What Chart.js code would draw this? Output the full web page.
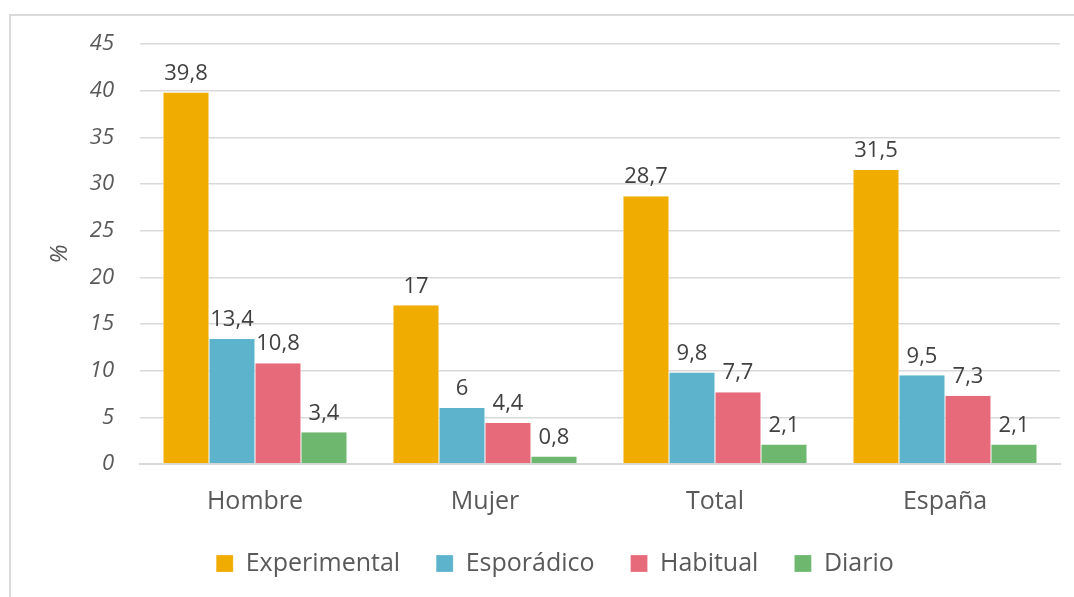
<!DOCTYPE html>
<html>
<head>
<meta charset="utf-8">
<script src="https://cdn.jsdelivr.net/npm/chart.js@4"></script>
<style>
  html, body { margin: 0; padding: 0; background: #fff; overflow: hidden; }
  #wrap { position: relative; width: 1074px; height: 597px; overflow: hidden; }
  #frame {
    position: absolute; left: 9px; top: 14px; width: 1100px; height: 620px;
    border: 2px solid #d9d9d9; box-sizing: border-box;
  }
  canvas { position: absolute; left: 0; top: 0; }
</style>
</head>
<body>
<div id="wrap">
  <div id="frame"></div>
  <canvas id="myChart" width="1074" height="597"></canvas>
</div>
<script>
// Categories and series
const categories = ['Hombre', 'Mujer', 'Total', 'España'];
const experimental = [39.8, 17, 28.7, 31.5];
const esporadico = [13.4, 6, 9.8, 9.5];
const habitual = [10.8, 4.4, 7.7, 7.3];
const diario = [3.4, 0.8, 2.1, 2.1];

const seriesNames = ['Experimental', 'Esporádico', 'Habitual', 'Diario'];
const seriesColors = ['#F0AC00', '#5EB3CC', '#E76A7B', '#6DB86E'];

const FONT = "'Open Sans', sans-serif";
const fmt = (v) => String(v).replace('.', ',');

// Simple value labels above each bar
const barLabels = {
    id: 'barLabels',
    afterDatasetsDraw(chart) {
        const ctx = chart.ctx;
        ctx.save();
        ctx.font = `22px ${FONT}`;
        ctx.fillStyle = '#404040';
        ctx.textAlign = 'center';
        ctx.textBaseline = 'bottom';
        chart.data.datasets.forEach((ds, i) => {
            chart.getDatasetMeta(i).data.forEach((bar, j) => {
                ctx.fillText(fmt(ds.data[j]), bar.x, bar.y - 8);
            });
        });
        ctx.restore();
    }
};

const ctx = document.getElementById('myChart').getContext('2d');

const config = {
    type: 'bar',
    data: {
        labels: categories,
        datasets: [experimental, esporadico, habitual, diario].map((d, i) => ({
            label: seriesNames[i],
            data: d,
            backgroundColor: seriesColors[i],
            borderColor: '#ffffff',
            borderWidth: { left: 0.5, right: 0.5, top: 0, bottom: 0 },
            categoryPercentage: 0.8,
            barPercentage: 1.0
        }))
    },
    options: {
        responsive: false,
        animation: false,
        layout: {
            // left padding also shifts the legend to the right, like the original
            padding: { left: 50, right: 14, top: 44, bottom: 11 }
        },
        scales: {
            x: {
                grid: { display: false, drawTicks: false },
                border: { color: '#d9d9d9', width: 2 },
                ticks: {
                    color: '#595959',
                    font: { family: FONT, size: 25 },
                    padding: 23
                },
                afterFit(scale) { scale.height = 51; }
            },
            y: {
                min: 0,
                max: 45,
                ticks: {
                    stepSize: 5,
                    color: '#595959',
                    font: { family: FONT, size: 22, style: 'italic' },
                    padding: 26
                },
                grid: { color: '#d9d9d9', lineWidth: 1.5, drawTicks: false },
                border: { display: false },
                title: {
                    display: true,
                    text: '%',
                    color: '#595959',
                    font: { family: FONT, size: 24, style: 'italic' },
                    padding: { top: -4, bottom: 0 }
                },
                afterFit(scale) { scale.width = 90; }
            }
        },
        plugins: {
            legend: {
                position: 'bottom',
                labels: {
                    color: '#595959',
                    font: { family: FONT, size: 25 },
                    boxWidth: 17,
                    boxHeight: 17,
                    padding: 36
                }
            },
            tooltip: { enabled: false }
        }
    },
    plugins: [barLabels]
};

const myChart = new Chart(ctx, config);
</script>
</body>
</html>
